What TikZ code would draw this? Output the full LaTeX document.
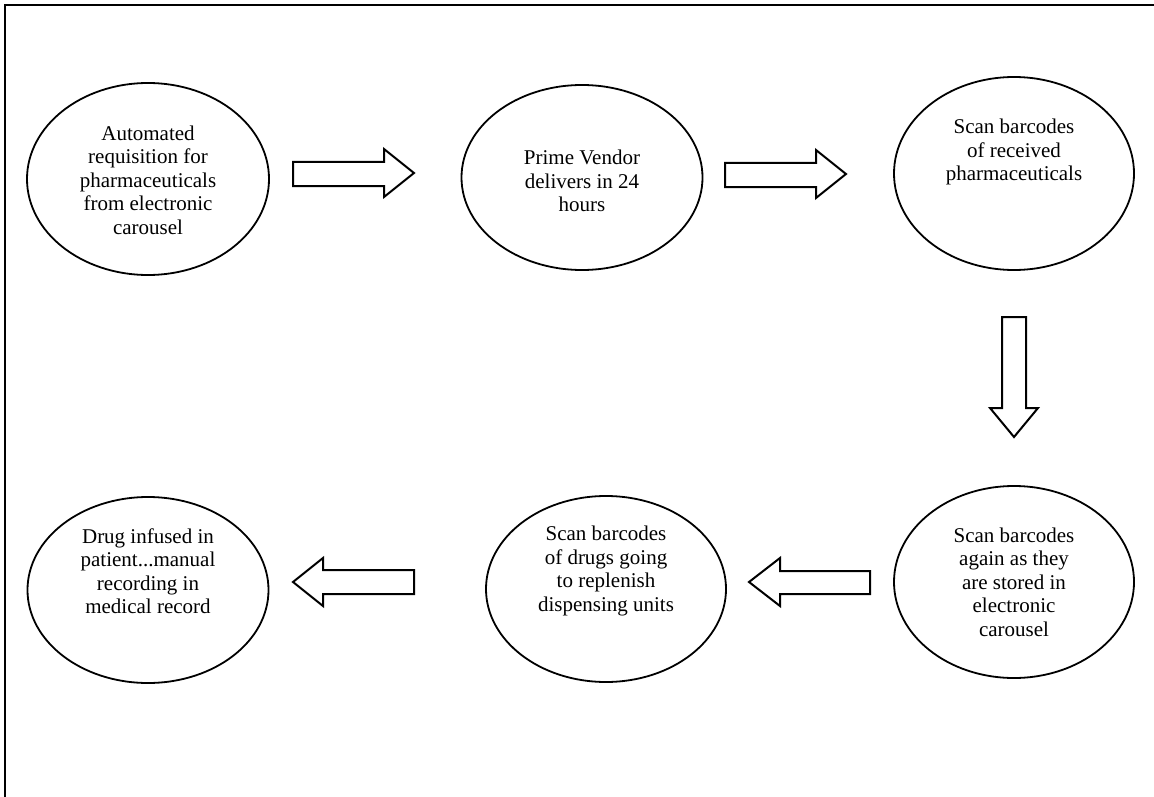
\documentclass[tikz,border=0pt]{standalone}
\usepackage{fontspec}
\setmainfont{Liberation Serif}
\usetikzlibrary{shapes.geometric}
\tikzset{
  stage/.style={ellipse, draw, line width=1.8pt, inner sep=0pt},
  stagetext/.style={align=center, font=\fontsize{21}{23.5}\selectfont, inner sep=0pt},
  blockarrow/.style={draw, line width=2pt, fill=white, line join=miter}
}
\begin{document}
\begin{tikzpicture}[x=1pt,y=-1pt]
\useasboundingbox (0,0) rectangle (1154,797);
% frame (only top and left edges visible)
\draw[line width=2.6pt] (5,797) -- (5,5) -- (1154,5);

% ellipses
\node[stage, minimum width=242pt, minimum height=192pt] (e1) at (148,179) {};
\node[stage, minimum width=241pt, minimum height=185pt] (e2) at (582,177.5) {};
\node[stage, minimum width=240pt, minimum height=193pt] (e3) at (1014,173.5) {};
\node[stage, minimum width=240pt, minimum height=192pt] (e4) at (1014,582) {};
\node[stage, minimum width=240pt, minimum height=186pt] (e5) at (606,589) {};
\node[stage, minimum width=241pt, minimum height=186pt] (e6) at (148,590) {};

% texts
\node[stagetext] (t1) at (148,180) {Automated\\requisition for\\pharmaceuticals\\from electronic\\carousel};
\node[stagetext] (t2) at (582,181) {Prime Vendor\\delivers in 24\\hours};
\node[stagetext] (t3) at (1014,152) {Scan barcodes\\of received\\pharmaceuticals};
\node[stagetext] (t4) at (1014,582) {Scan barcodes\\again as they\\are stored in\\electronic\\carousel};
\node[stagetext] (t5) at (606,571) {Scan barcodes\\of drugs going\\to replenish\\dispensing units};
\node[stagetext] (t6) at (148,571) {Drug infused in\\patient...manual\\recording in\\medical record};

% block arrows
\draw[blockarrow] (293,162) -- (384,162) -- (384,149) -- (414,173) -- (384,197) -- (384,186) -- (293,186) -- cycle;
\draw[blockarrow] (725,163) -- (816,163) -- (816,150) -- (846,174) -- (816,198) -- (816,187) -- (725,187) -- cycle;
\draw[blockarrow] (1002,317) -- (1026,317) -- (1026,408) -- (1038,408) -- (1014,437) -- (990,408) -- (1002,408) -- cycle;
\draw[blockarrow] (870,571) -- (780,571) -- (780,558) -- (749,582) -- (780,606) -- (780,594) -- (870,594) -- cycle;
\draw[blockarrow] (414,570) -- (323,570) -- (323,558) -- (293,582) -- (323,606) -- (323,594) -- (414,594) -- cycle;
\end{tikzpicture}
\end{document}
